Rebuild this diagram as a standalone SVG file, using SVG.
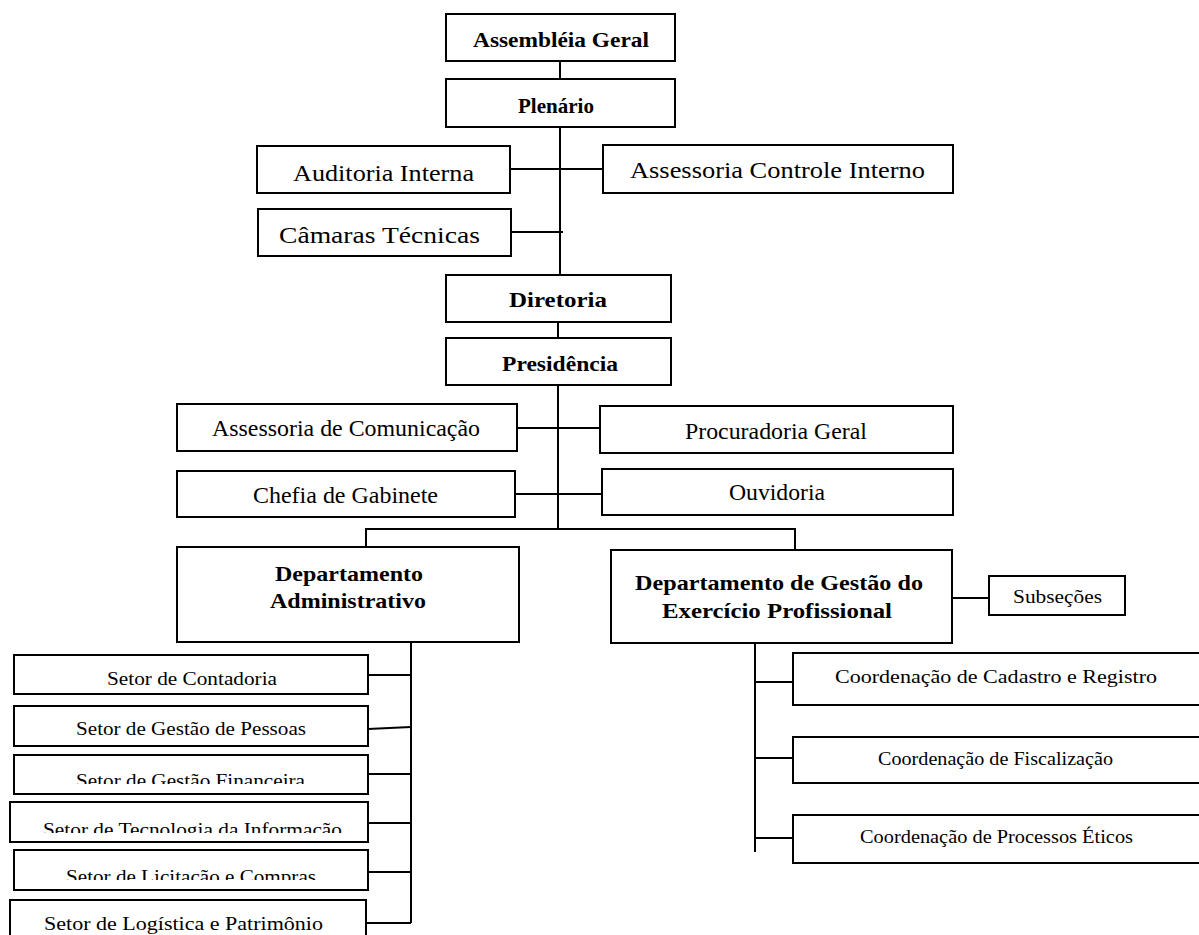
<svg xmlns="http://www.w3.org/2000/svg" width="1199" height="935" viewBox="0 0 1199 935">
<style>
  .box { fill: #fff; stroke: #000; stroke-width: 2; }
  .ln { fill: none; stroke: #000; stroke-width: 2; }
  .b { font-family: "Liberation Serif", "Times New Roman", serif; font-weight: bold; font-size: 22px; fill: #000; }
  .t { font-family: "Liberation Serif", "Times New Roman", serif; font-size: 24px; fill: #000; }
  .s { font-family: "Liberation Serif", "Times New Roman", serif; font-size: 19px; fill: #000; }
</style>
<defs>
  <clipPath id="cFin"><rect x="0" y="750" width="400" height="34"/></clipPath>
  <clipPath id="cTec"><rect x="0" y="800" width="400" height="33"/></clipPath>
  <clipPath id="cLic"><rect x="0" y="848" width="400" height="32"/></clipPath>
</defs>
<rect width="1199" height="935" fill="#fff"/>
<g id="connectors">
  <path class="ln" d="M560 61 V79"/>
  <path class="ln" d="M560 127 V275"/>
  <path class="ln" d="M510 169 H603"/>
  <path class="ln" d="M511 232 H563"/>
  <path class="ln" d="M558 322 V338"/>
  <path class="ln" d="M558 385 V529"/>
  <path class="ln" d="M517 428 H600"/>
  <path class="ln" d="M515 494 H602"/>
  <path class="ln" d="M366 547 V529 H795 V550"/>
  <path class="ln" d="M952 598 H989"/>
  <path class="ln" d="M411 642 V923"/>
  <path class="ln" d="M368 675 H411"/>
  <path class="ln" d="M368 729 L411 727"/>
  <path class="ln" d="M368 774 H411"/>
  <path class="ln" d="M368 823 H411"/>
  <path class="ln" d="M368 872 H411"/>
  <path class="ln" d="M366 923 H411"/>
  <path class="ln" d="M755 643 V852"/>
  <path class="ln" d="M755 682 H793"/>
  <path class="ln" d="M755 758 H793"/>
  <path class="ln" d="M755 838 H793"/>
</g>
<g id="assembleia">
  <rect class="box" x="446" y="14" width="229" height="47"/>
  <text class="b" x="473" y="47" textLength="176" lengthAdjust="spacingAndGlyphs">Assembléia Geral</text>
</g>
<g id="plenario">
  <rect class="box" x="446" y="79" width="229" height="48"/>
  <text class="b" x="518" y="113" textLength="76" lengthAdjust="spacingAndGlyphs">Plenário</text>
</g>
<g id="auditoria">
  <rect class="box" x="257" y="146" width="253" height="47"/>
  <text class="t" x="293" y="181" textLength="181" lengthAdjust="spacingAndGlyphs">Auditoria Interna</text>
</g>
<g id="controle">
  <rect class="box" x="603" y="145" width="350" height="48"/>
  <text class="t" x="630" y="178" textLength="295" lengthAdjust="spacingAndGlyphs">Assessoria Controle Interno</text>
</g>
<g id="camaras">
  <rect class="box" x="258" y="209" width="253" height="47"/>
  <text class="t" x="279" y="243" textLength="201" lengthAdjust="spacingAndGlyphs">Câmaras Técnicas</text>
</g>
<g id="diretoria">
  <rect class="box" x="446" y="275" width="225" height="47"/>
  <text class="b" x="509" y="307" textLength="98" lengthAdjust="spacingAndGlyphs">Diretoria</text>
</g>
<g id="presidencia">
  <rect class="box" x="446" y="338" width="225" height="47"/>
  <text class="b" x="502" y="371" textLength="116" lengthAdjust="spacingAndGlyphs">Presidência</text>
</g>
<g id="comunicacao">
  <rect class="box" x="177" y="404" width="340" height="47"/>
  <text class="t" x="212" y="436" textLength="268" lengthAdjust="spacingAndGlyphs">Assessoria de Comunicação</text>
</g>
<g id="procuradoria">
  <rect class="box" x="600" y="406" width="353" height="47"/>
  <text class="t" x="685" y="439" textLength="182" lengthAdjust="spacingAndGlyphs">Procuradoria Geral</text>
</g>
<g id="chefia">
  <rect class="box" x="177" y="471" width="338" height="46"/>
  <text class="t" x="253" y="503" textLength="185" lengthAdjust="spacingAndGlyphs">Chefia de Gabinete</text>
</g>
<g id="ouvidoria">
  <rect class="box" x="602" y="469" width="351" height="46"/>
  <text class="t" x="729" y="500" textLength="96" lengthAdjust="spacingAndGlyphs">Ouvidoria</text>
</g>
<g id="dept-admin">
  <rect class="box" x="177" y="547" width="342" height="95"/>
  <text class="b" x="275" y="581" textLength="148" lengthAdjust="spacingAndGlyphs">Departamento</text>
  <text class="b" x="270" y="608" textLength="156" lengthAdjust="spacingAndGlyphs">Administrativo</text>
</g>
<g id="dept-gestao">
  <rect class="box" x="611" y="550" width="341" height="93"/>
  <text class="b" x="635" y="590" textLength="288" lengthAdjust="spacingAndGlyphs">Departamento de Gestão do</text>
  <text class="b" x="662" y="618" textLength="230" lengthAdjust="spacingAndGlyphs">Exercício Profissional</text>
</g>
<g id="subsecoes">
  <rect class="box" x="989" y="576" width="136" height="39"/>
  <text class="s" x="1013" y="603" textLength="89" lengthAdjust="spacingAndGlyphs">Subseções</text>
</g>
<g id="contadoria">
  <rect class="box" x="14" y="655" width="354" height="39"/>
  <text class="s" x="107" y="685" textLength="170" lengthAdjust="spacingAndGlyphs">Setor de Contadoria</text>
</g>
<g id="pessoas">
  <rect class="box" x="14" y="706" width="354" height="40"/>
  <text class="s" x="76" y="735" textLength="230" lengthAdjust="spacingAndGlyphs">Setor de Gestão de Pessoas</text>
</g>
<g id="financeira">
  <rect class="box" x="14" y="755" width="354" height="39"/>
  <text class="s" x="76" y="787" textLength="229" lengthAdjust="spacingAndGlyphs" clip-path="url(#cFin)">Setor de Gestão Financeira</text>
</g>
<g id="tecnologia">
  <rect class="box" x="10" y="802" width="358" height="40"/>
  <text class="s" x="43" y="836" textLength="299" lengthAdjust="spacingAndGlyphs" clip-path="url(#cTec)">Setor de Tecnologia da Informação</text>
</g>
<g id="licitacao">
  <rect class="box" x="14" y="850" width="354" height="40"/>
  <text class="s" x="66" y="883" textLength="250" lengthAdjust="spacingAndGlyphs" clip-path="url(#cLic)">Setor de Licitação e Compras</text>
</g>
<g id="logistica">
  <rect class="box" x="10" y="900" width="356" height="50"/>
  <text class="s" x="44" y="930" textLength="279" lengthAdjust="spacingAndGlyphs">Setor de Logística e Patrimônio</text>
</g>
<g id="cadastro">
  <rect class="box" x="793" y="653" width="420" height="52"/>
  <text class="s" x="835" y="683" textLength="322" lengthAdjust="spacingAndGlyphs">Coordenação de Cadastro e Registro</text>
</g>
<g id="fiscalizacao">
  <rect class="box" x="793" y="737" width="420" height="46"/>
  <text class="s" x="878" y="765" textLength="235" lengthAdjust="spacingAndGlyphs">Coordenação de Fiscalização</text>
</g>
<g id="eticos">
  <rect class="box" x="793" y="815" width="420" height="48"/>
  <text class="s" x="860" y="843" textLength="273" lengthAdjust="spacingAndGlyphs">Coordenação de Processos Éticos</text>
</g>
</svg>
